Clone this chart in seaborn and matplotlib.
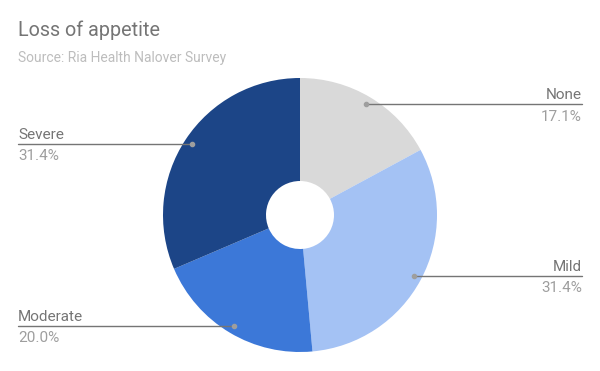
import numpy as np
import matplotlib
matplotlib.use("Agg")
import matplotlib.pyplot as plt
import seaborn as sns

# data
categories = ["None", "Mild", "Moderate", "Severe"]
values = [17.1, 31.4, 20.0, 31.4]
colors = ["#d9d9d9", "#a4c2f4", "#3c78d8", "#1c4587"]

sns.set_theme(style="white")
plt.rcParams["font.family"] = ["Roboto", "DejaVu Sans"]

fig = plt.figure(figsize=(6, 3.71), dpi=100)
ax = fig.add_axes([0, 0, 1, 1])

cx, cy, r = 300, 215, 137
# y axis is inverted (pixel coords), so start at bottom and go counterclockwise
ax.pie(values, colors=colors, startangle=-90, counterclock=True,
       center=(cx, cy), radius=r, frame=True,
       wedgeprops=dict(width=r - 34, linewidth=0))
ax.set_xlim(0, 600)
ax.set_ylim(371, 0)
ax.set_aspect("equal")
ax.axis("off")

fig.text(18 / 600, 1 - 36 / 371, "Loss of appetite", fontsize=14.2, color="#757575", va="baseline")
fig.text(18 / 600, 1 - 62 / 371, "Source: Ria Health Nalover Survey", fontsize=10, color="#bdbdbd", va="baseline")

total = sum(values)
cum = 0
for cat, v in zip(categories, values):
    mid = (cum + v / 2) / total * 2 * np.pi
    cum += v
    dx = 129 * np.sin(mid)
    dy = -129 * np.cos(mid)
    px, py = cx + dx, cy + dy
    if dx > 0:
        x0, x1, ha, tx = px, 582, "right", 582
    else:
        x0, x1, ha, tx = 18, px, "left", 18
    ax.plot([x0, x1], [py, py], color="#757575", lw=1)
    ax.plot(px, py, "o", color="#9e9e9e", ms=3)
    ax.text(tx, py - 5, cat, ha=ha, va="baseline", fontsize=11, color="#757575")
    ax.text(tx, py + 5.5, f"{v:.1f}%", ha=ha, va="top", fontsize=11, color="#9e9e9e")

fig.savefig("out.png", dpi=100)
